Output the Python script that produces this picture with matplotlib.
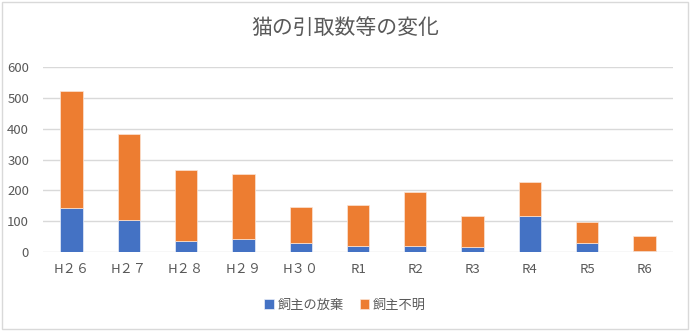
import matplotlib.pyplot as plt
from matplotlib.patches import Rectangle
import numpy as np

plt.rcParams['font.family'] = ['Noto Sans CJK JP', 'DejaVu Sans']

years = ['H２６', 'H２７', 'H２８', 'H２９', 'H３０', 'R1', 'R2', 'R3', 'R4', 'R5', 'R6']
houki = [143, 105, 37, 43, 29, 19, 21, 17, 116, 31, 5]
fumei = [377, 276, 230, 210, 118, 133, 175, 100, 111, 66, 48]

fig = plt.figure(figsize=(6.9, 3.31), dpi=100)
ax = fig.add_axes([43 / 690, 1 - 252.3 / 331, 630 / 690, 185.6 / 331])

x = np.arange(len(years))
ax.bar(x, houki, width=0.39, color='#4472c4', edgecolor='#eaeef8', linewidth=0.5,
       label='飼主の放棄', zorder=3)
ax.bar(x, fumei, width=0.39, bottom=houki, color='#ed7d31', edgecolor='#fbe5d6',
       linewidth=0.5, label='飼主不明', zorder=3)

ax.set_xlim(-0.5, len(years) - 0.5)
ax.set_ylim(0, 600)
ax.set_yticks(range(0, 601, 100))
ax.set_xticks(x)
ax.set_xticklabels(years)
ax.grid(axis='y', color='#d9d9d9', linewidth=1, zorder=0)
for s in ax.spines.values():
    s.set_visible(False)
ax.tick_params(length=0, colors='#595959', labelsize=9.5, pad=8)
ax.tick_params(axis='y', pad=10)

fig.text(0.5, 1 - 28 / 331, '猫の引取数等の変化', ha='center', va='center',
         fontsize=15, color='#595959')

fig.legend(loc='center', bbox_to_anchor=(0.5, 1 - 305 / 331), ncol=2,
           frameon=False, fontsize=9.5, handlelength=0.7, handleheight=0.7,
           handletextpad=0.3, columnspacing=1.2, labelcolor='#595959')

# outer chart frame
fig.add_artist(Rectangle((2 / 690, 2 / 331), 686 / 690, 327 / 331,
                         transform=fig.transFigure, fill=False,
                         edgecolor='#d9d9d9', linewidth=1))

fig.savefig('out.png', dpi=100)
